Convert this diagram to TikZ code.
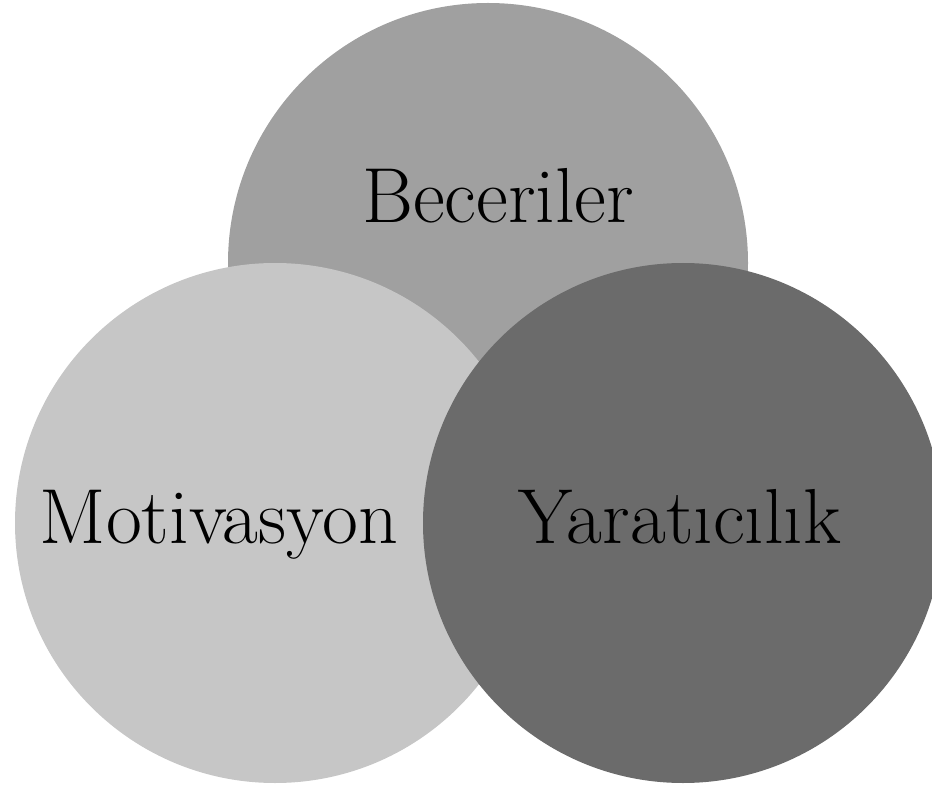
\documentclass[tikz,border=0pt]{standalone}
\usepackage{fontspec}
\definecolor{topgray}{RGB}{160,160,160}
\definecolor{leftgray}{RGB}{198,198,198}
\definecolor{rightgray}{RGB}{107,107,107}
\begin{document}
\begin{tikzpicture}[x=1pt,y=-1pt,
  circ/.style={circle, minimum size=520pt, inner sep=0pt, draw=none},
  lbl/.style={font=\fontsize{78}{94}\selectfont, anchor=base, text=black, inner sep=0pt}]
\useasboundingbox (0,0) rectangle (932,786);
\clip (0,0) rectangle (932,786);
\node[circ, fill=topgray] (bec) at (488,263) {};
\node[circ, fill=leftgray] (mot) at (275,523) {};
\node[circ, fill=rightgray] (yar) at (683,523) {};
\node[lbl] (tbec) at (498,223) {Beceriler};
\node[lbl] (tmot) at (219,543) {Motivasyon};
\node[lbl] (tyar) at (680,543) {Yaratıcılık};
\end{tikzpicture}
\end{document}
